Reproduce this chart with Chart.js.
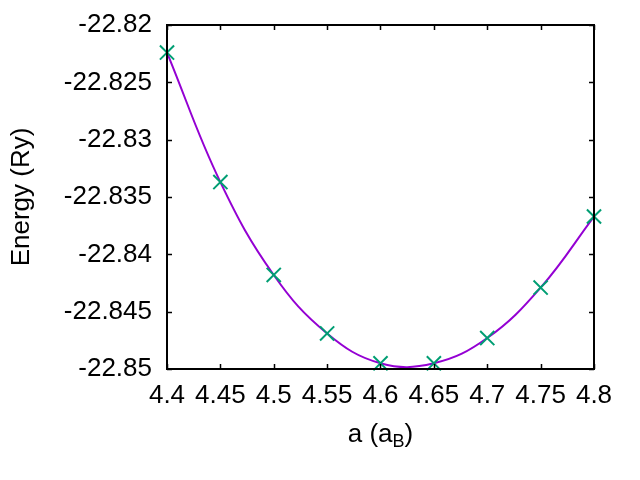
<!DOCTYPE html>
<html>
<head>
<meta charset="utf-8">
<script src="https://cdn.jsdelivr.net/npm/chart.js@4"></script>
<style>
  html, body { margin: 0; padding: 0; background: #fff; }
  #wrap { width: 640px; height: 480px; }
</style>
</head>
<body>
<div id="wrap"><canvas id="energyChart" width="640" height="480"></canvas></div>
<script>
// lattice constant (bohr) and total energy (Ry)
const latticeA = [4.4, 4.45, 4.5, 4.55, 4.6, 4.65, 4.7, 4.75, 4.8];
const energyRy = [-22.8224, -22.8337, -22.8418, -22.8469, -22.8495, -22.8495, -22.8473, -22.8429, -22.8367];
const xTicks = [4.4, 4.45, 4.5, 4.55, 4.6, 4.65, 4.7, 4.75, 4.8];
const yTicks = [-22.85, -22.845, -22.84, -22.835, -22.83, -22.825, -22.82];

const fontFamily = '"Liberation Sans", Arial, Helvetica, sans-serif';
const points = latticeA.map((a, i) => ({ x: a, y: energyRy[i] }));

// gnuplot style frame with inward ticks on all four sides
const framePlugin = {
    id: 'frame',
    afterDatasetsDraw(chart) {
        const { ctx, chartArea: area, scales } = chart;
        ctx.save();
        ctx.strokeStyle = '#000';
        ctx.lineWidth = 1.5;
        ctx.beginPath();
        const len = 5;
        xTicks.forEach(v => {
            const px = Math.round(scales.x.getPixelForValue(v)) + 0.5;
            ctx.moveTo(px, area.bottom); ctx.lineTo(px, area.bottom - len);
            ctx.moveTo(px, area.top); ctx.lineTo(px, area.top + len);
        });
        yTicks.forEach(v => {
            const py = Math.round(scales.y.getPixelForValue(v)) + 0.5;
            ctx.moveTo(area.left, py); ctx.lineTo(area.left + len, py);
            ctx.moveTo(area.right, py); ctx.lineTo(area.right - len, py);
        });
        ctx.stroke();
        ctx.lineWidth = 2;
        ctx.strokeRect(area.left, area.top, area.right - area.left, area.bottom - area.top);
        ctx.restore();
    },
    afterDraw(chart) {
        // x axis title with subscript B
        const { ctx, chartArea: area } = chart;
        ctx.save();
        ctx.fillStyle = '#000';
        ctx.textBaseline = 'alphabetic';
        const big = '26px ' + fontFamily;
        const small = '18px ' + fontFamily;
        ctx.font = big;
        const main = 'a (a';
        const sub = 'B';
        const tail = ')';
        const wMain = ctx.measureText(main).width;
        const wTail = ctx.measureText(tail).width;
        ctx.font = small;
        const wSub = ctx.measureText(sub).width;
        const total = wMain + wSub + wTail;
        let x = (area.left + area.right) / 2 - total / 2;
        const base = 442;
        ctx.font = big;
        ctx.fillText(main, x, base);
        x += wMain;
        ctx.font = small;
        ctx.fillText(sub, x, base + 5);
        x += wSub;
        ctx.font = big;
        ctx.fillText(tail, x, base);
        ctx.restore();
    }
};

new Chart(document.getElementById('energyChart').getContext('2d'), {
    type: 'scatter',
    data: {
        datasets: [{
            label: 'fit',
            data: points,
            showLine: true,
            borderColor: '#9400d3',
            borderWidth: 2,
            tension: 0.4,
            pointRadius: 0,
            pointHoverRadius: 0,
            order: 2
        }, {
            label: 'energy',
            data: points,
            showLine: false,
            pointStyle: 'crossRot',
            pointRadius: 10,
            borderColor: '#009e73',
            backgroundColor: '#009e73',
            pointBorderWidth: 2,
            clip: false,
            order: 1
        }]
    },
    options: {
        responsive: false,
        animation: false,
        events: [],
        layout: { padding: { top: 25, right: 46, left: 0, bottom: 0 } },
        plugins: {
            legend: { display: false },
            tooltip: { enabled: false }
        },
        scales: {
            x: {
                type: 'linear',
                min: 4.4,
                max: 4.8,
                afterBuildTicks: scale => { scale.ticks = xTicks.map(v => ({ value: v })); },
                afterFit: scale => { scale.height = 111; scale.paddingLeft = 0; scale.paddingRight = 0; },
                grid: { display: false, drawTicks: false },
                border: { display: false },
                ticks: {
                    color: '#000',
                    padding: 11,
                    maxRotation: 0,
                    autoSkip: false,
                    font: { size: 26, family: fontFamily },
                    callback: v => String(Number(v.toFixed(2)))
                }
            },
            y: {
                type: 'linear',
                min: -22.85,
                max: -22.82,
                afterBuildTicks: scale => { scale.ticks = yTicks.map(v => ({ value: v })); },
                afterFit: scale => { scale.width = 167; scale.paddingTop = 0; scale.paddingBottom = 0; },
                grid: { display: false, drawTicks: false },
                border: { display: false },
                title: {
                    display: true,
                    text: 'Energy (Ry)',
                    color: '#000',
                    padding: { top: 6, bottom: 20 },
                    font: { size: 26, family: fontFamily }
                },
                ticks: {
                    color: '#000',
                    padding: 15,
                    autoSkip: false,
                    font: { size: 26, family: fontFamily },
                    callback: v => String(Number(v.toFixed(3)))
                }
            }
        }
    },
    plugins: [framePlugin]
});
</script>
</body>
</html>
